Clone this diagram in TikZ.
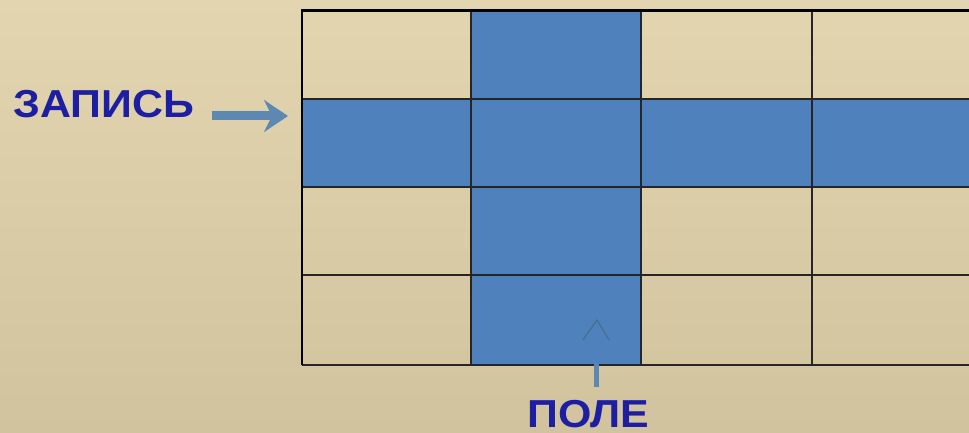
\documentclass[tikz,border=0pt]{standalone}
\usepackage{fontspec}
\setmainfont{Liberation Sans}
\usetikzlibrary{arrows.meta,calc}
\definecolor{bgtop}{HTML}{E3D5AF}
\definecolor{bgbot}{HTML}{D1C39D}
\definecolor{cellblue}{HTML}{4F81BD}
\definecolor{txtblue}{HTML}{1E1EA2}
\definecolor{arrblue}{HTML}{5D88B2}
\tikzset{
  bluecell/.style={fill=cellblue, draw=none},
  gridline/.style={draw=black!85, line width=1.6pt},
  lbl/.style={text=txtblue, font=\bfseries\fontsize{39}{39}\selectfont, inner sep=0pt, xscale=1.1},
  pointer/.style={draw=arrblue, line width=9pt, -{Stealth[length=24pt,width=32pt,inset=8pt]}},
}
\begin{document}
\begin{tikzpicture}[x=1pt,y=-1pt]
\useasboundingbox (0,0) rectangle (969,433);
\shade[top color=bgtop, bottom color=bgbot] (0,0) rectangle (969,433);
% blue cells
\fill[bluecell] (471,11) rectangle (641,365);
\fill[bluecell] (302,99) rectangle (969,187);
% grid lines
\foreach \y in {99,187,275,365} \draw[gridline] (302,\y) -- (969,\y);
\foreach \x in {471,641,812} \draw[gridline] (\x,11) -- (\x,365);
\draw[draw=black, line width=3pt] (300.5,11) -- (969,11);
\draw[draw=black, line width=2.2pt] (302,11) -- (302,365);
% labels
\node[lbl, anchor=west] (zap) at (13,104) {ЗАПИСЬ};
\coordinate (zapstart) at (212,116);
\coordinate (zapend) at (288,116);
\draw[pointer] (zapstart) -- (zapend);
\node[lbl, anchor=north west] (pole) at (527,400) {ПОЛЕ};
\coordinate (polebot) at (596,387);
\coordinate (poletop) at (596,364);
\draw[draw=arrblue, line width=5pt] (polebot) -- (poletop);
\coordinate (caret) at (597,320);
\draw[draw=arrblue!80!black, line width=1.2pt] ($(caret)+(-14,20)$) -- (caret) -- ($(caret)+(12,20)$);
\end{tikzpicture}
\end{document}
